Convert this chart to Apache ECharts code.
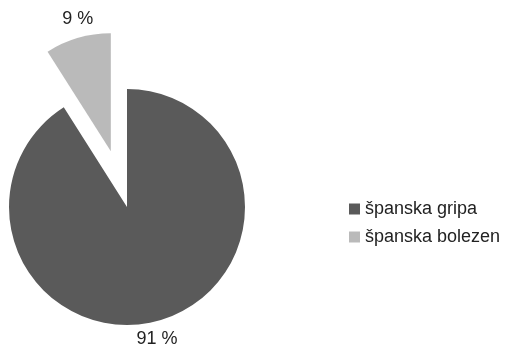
<!DOCTYPE html>
<html>
<head>
<meta charset="utf-8">
<style>
  html, body { margin: 0; padding: 0; background: #ffffff; }
  #chart { width: 522px; height: 347px; }
</style>
<script src="https://cdn.jsdelivr.net/npm/echarts@6/dist/echarts.min.js"></script>
</head>
<body>
<div id="chart"></div>
<script>
// Share of each name for the 1918 pandemic
const categories = ['španska gripa', 'španska bolezen'];
const values = [91, 9];
const colors = ['#5a5a5a', '#bababa'];

const FONT = 'Liberation Sans, Arial, sans-serif';

const chart = echarts.init(document.getElementById('chart'), null, { renderer: 'canvas' });

// label placement: hidden label line used only to push the text into place
const labelLines = [
  { show: false, length: 20, length2: -34 },
  { show: false, length: 20, length2: -26 }
];

const data = categories.map((name, i) => ({
  name: name,
  value: values[i],
  selected: i === 1,
  itemStyle: { color: colors[i] },
  labelLine: labelLines[i]
}));

chart.setOption({
  animation: false,
  backgroundColor: '#ffffff',
  legend: {
    orient: 'vertical',
    left: 344,
    top: 195,
    itemWidth: 11,
    itemHeight: 11,
    itemGap: 10,
    icon: 'rect',
    textStyle: { fontFamily: FONT, fontSize: 18, color: '#222222' },
    data: categories
  },
  series: [{
    type: 'pie',
    center: [127, 207],
    radius: 118,
    startAngle: 90,
    clockwise: true,
    selectedMode: 'single',
    selectedOffset: 58,
    label: {
      show: true,
      position: 'outside',
      formatter: '{c} %',
      fontFamily: FONT,
      fontSize: 18,
      color: '#222222'
    },
    labelLine: { show: false },
    itemStyle: { borderWidth: 0 },
    emphasis: { disabled: true },
    data: data
  }]
});
</script>
</body>
</html>
